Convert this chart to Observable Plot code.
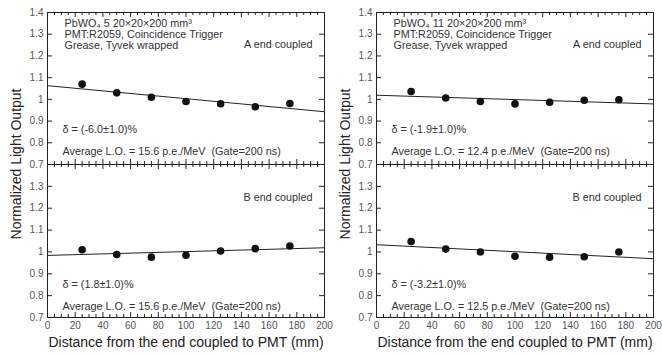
<!DOCTYPE html>
<html>
<head>
<meta charset="utf-8">
<script src="https://cdn.jsdelivr.net/npm/d3@7"></script>
<script src="https://cdn.jsdelivr.net/npm/@observablehq/plot@0.6"></script>
<style>
  html, body { margin: 0; padding: 0; background: #fff; }
  #chart { position: relative; width: 662px; height: 354px; overflow: hidden; font-family: "Liberation Sans", Arial, sans-serif; }
  #chart > .panel { position: absolute; }
  .ytitle { position: absolute; font-size: 14px; color: #222; white-space: nowrap; transform: translate(-50%, -50%) rotate(-90deg); }
</style>
</head>
<body>
<div id="chart"></div>
<script>
// ---- data ----
const positions = [25, 50, 75, 100, 125, 150, 175];
const crystal5A = [1.07, 1.03, 1.01, 0.99, 0.98, 0.966, 0.981];
const crystal5B = [1.01, 0.988, 0.976, 0.985, 1.004, 1.015, 1.027];
const crystal11A = [1.036, 1.006, 0.99, 0.979, 0.987, 0.996, 0.998];
const crystal11B = [1.048, 1.013, 1.0, 0.98, 0.976, 0.978, 1.0];
const fitX = [0, 200];
const fit5A = [1.063, 0.943];
const fit5B = [0.984, 1.019];
const fit11A = [1.019, 0.979];
const fit11B = [1.033, 0.969];
const xTicks = [0, 20, 40, 60, 80, 100, 120, 140, 160, 180, 200];
const xMinorTicks = [5, 10, 15, 25, 30, 35, 45, 50, 55, 65, 70, 75, 85, 90, 95, 105, 110, 115, 125, 130, 135, 145, 150, 155, 165, 170, 175, 185, 190, 195];
const yTicksTop = [0.7, 0.8, 0.9, 1, 1.1, 1.2, 1.3, 1.4];
const yTicksBottom = [0.7, 0.8, 0.9, 1, 1.1, 1.2, 1.3];
const headerLines5 = ["PbWO\u2084 5 20\u00d720\u00d7200 mm\u00b3", "PMT:R2059, Coincidence Trigger", "Grease, Tyvek wrapped"];
const headerLines11 = ["PbWO\u2084 11 20\u00d720\u00d7200 mm\u00b3", "PMT:R2059, Coincidence Trigger", "Grease, Tyvek wrapped"];
const endLabels = ["A end coupled", "B end coupled"];
const deltas = ["\u03b4 = (-6.0\u00b11.0)%", "\u03b4 = (1.8\u00b11.0)%", "\u03b4 = (-1.9\u00b11.0)%", "\u03b4 = (-3.2\u00b11.0)%"];
const averages = [
  "Average L.O. = 15.6 p.e./MeV\u00a0 (Gate=200 ns)",
  "Average L.O. = 15.6 p.e./MeV\u00a0 (Gate=200 ns)",
  "Average L.O. = 12.4 p.e./MeV\u00a0 (Gate=200 ns)",
  "Average L.O. = 12.5 p.e./MeV\u00a0 (Gate=200 ns)"
];
const xTitle = "Distance from the end coupled to PMT (mm)";
const yTitle = "Normalized Light Output";

// ---- drawing ----
const FONT = "Liberation Sans, Arial, sans-serif";
const TXT = "#333";
const FS = 10.8;
const X0 = 0, X1 = 200, Y0 = 0.7, Y1 = 1.4;
const FRAME_W = 277, FRAME_H = 152.5;
const pxX = px => px * (X1 - X0) / FRAME_W;   // pixel length -> x data length
const pxY = px => px * (Y1 - Y0) / FRAME_H;   // pixel length -> y data length

function panel({values, fit, header, endLabel, delta, avg, bottom}) {
  const pts = positions.map((x, i) => ({x, y: values[i]}));
  const line = fitX.map((x, i) => ({x, y: fit[i]}));
  const yt = bottom ? yTicksBottom : yTicksTop;
  const tickStyle = {stroke: "#222", strokeWidth: 1};
  const marks = [
    // inward ticks on all four sides
    Plot.ruleY(yTicksTop, {y: d => d, x1: X0, x2: X0 + pxX(5), ...tickStyle}),
    Plot.ruleY(yTicksTop, {y: d => d, x1: X1, x2: X1 - pxX(5), ...tickStyle}),
    Plot.ruleX(xTicks, {x: d => d, y1: Y1, y2: Y1 - pxY(5), ...tickStyle}),
    Plot.ruleX(xMinorTicks, {x: d => d, y1: Y1, y2: Y1 - pxY(3), ...tickStyle}),
    Plot.ruleX(xTicks, {x: d => d, y1: Y0, y2: Y0 + pxY(5), ...tickStyle}),
    Plot.ruleX(xMinorTicks, {x: d => d, y1: Y0, y2: Y0 + pxY(3), ...tickStyle}),
    Plot.frame({stroke: "#222", strokeWidth: 1}),
    Plot.line(line, {x: "x", y: "y", stroke: "#222", strokeWidth: 1}),
    Plot.dot(pts, {x: "x", y: "y", r: 3.8, fill: "#111", stroke: "none"}),
    Plot.text([endLabel], {frameAnchor: "top-right", text: d => d, dx: -12, dy: bottom ? 29 : 28, lineAnchor: "top", textAnchor: "end", fontSize: FS, fill: TXT}),
    Plot.text([delta], {frameAnchor: "top-left", text: d => d, dx: 15, dy: bottom ? 116 : 113, lineAnchor: "top", textAnchor: "start", fontSize: FS, fill: TXT}),
    Plot.text([avg], {frameAnchor: "top-left", text: d => d, dx: 15, dy: bottom ? 138 : 135, lineAnchor: "top", textAnchor: "start", fontSize: FS, fill: TXT})
  ];
  if (header) {
    marks.push(Plot.text([header.join("\n")], {frameAnchor: "top-left", text: d => d, dx: 17, dy: 6, lineAnchor: "top", textAnchor: "start", lineHeight: 1.05, fontSize: FS, fill: TXT}));
  }
  if (bottom) {
    marks.push(Plot.text([xTitle], {frameAnchor: "bottom", text: d => d, dy: 25, lineAnchor: "middle", fontSize: 14, fill: "#222"}));
  }
  return Plot.plot({
    width: 331,
    height: bottom ? 190 : 164,
    marginLeft: 47,
    marginRight: 7,
    marginTop: bottom ? 0 : 12,
    marginBottom: bottom ? 37 : 0,
    x: {domain: [X0, X1], axis: bottom ? "bottom" : null, ticks: xTicks, tickSize: 0, tickPadding: 4, label: null, tickFormat: d => String(d)},
    y: {domain: [Y0, Y1], axis: "left", ticks: yt, tickSize: 0, tickPadding: 4, label: null, tickFormat: d => d3.format("~g")(d)},
    style: {fontFamily: FONT, fontSize: "10px", color: "#555", background: "transparent", overflow: "visible"},
    marks
  });
}

const chart = document.getElementById("chart");
const specs = [
  {left: 0, top: 0, opts: {values: crystal5A, fit: fit5A, header: headerLines5, endLabel: endLabels[0], delta: deltas[0], avg: averages[0], bottom: false}},
  {left: 0, top: 164, opts: {values: crystal5B, fit: fit5B, header: null, endLabel: endLabels[1], delta: deltas[1], avg: averages[1], bottom: true}},
  {left: 329, top: 0, opts: {values: crystal11A, fit: fit11A, header: headerLines11, endLabel: endLabels[0], delta: deltas[2], avg: averages[2], bottom: false}},
  {left: 329, top: 164, opts: {values: crystal11B, fit: fit11B, header: null, endLabel: endLabels[1], delta: deltas[3], avg: averages[3], bottom: true}}
];
for (const s of specs) {
  const el = panel(s.opts);
  el.classList.add("panel");
  el.style.left = s.left + "px";
  el.style.top = s.top + "px";
  el.style.maxWidth = "none";
  chart.appendChild(el);
}
for (const x of [16, 345]) {
  const t = document.createElement("div");
  t.className = "ytitle";
  t.textContent = yTitle;
  t.style.left = x + "px";
  t.style.top = "164px";
  chart.appendChild(t);
}
</script>
</body>
</html>
